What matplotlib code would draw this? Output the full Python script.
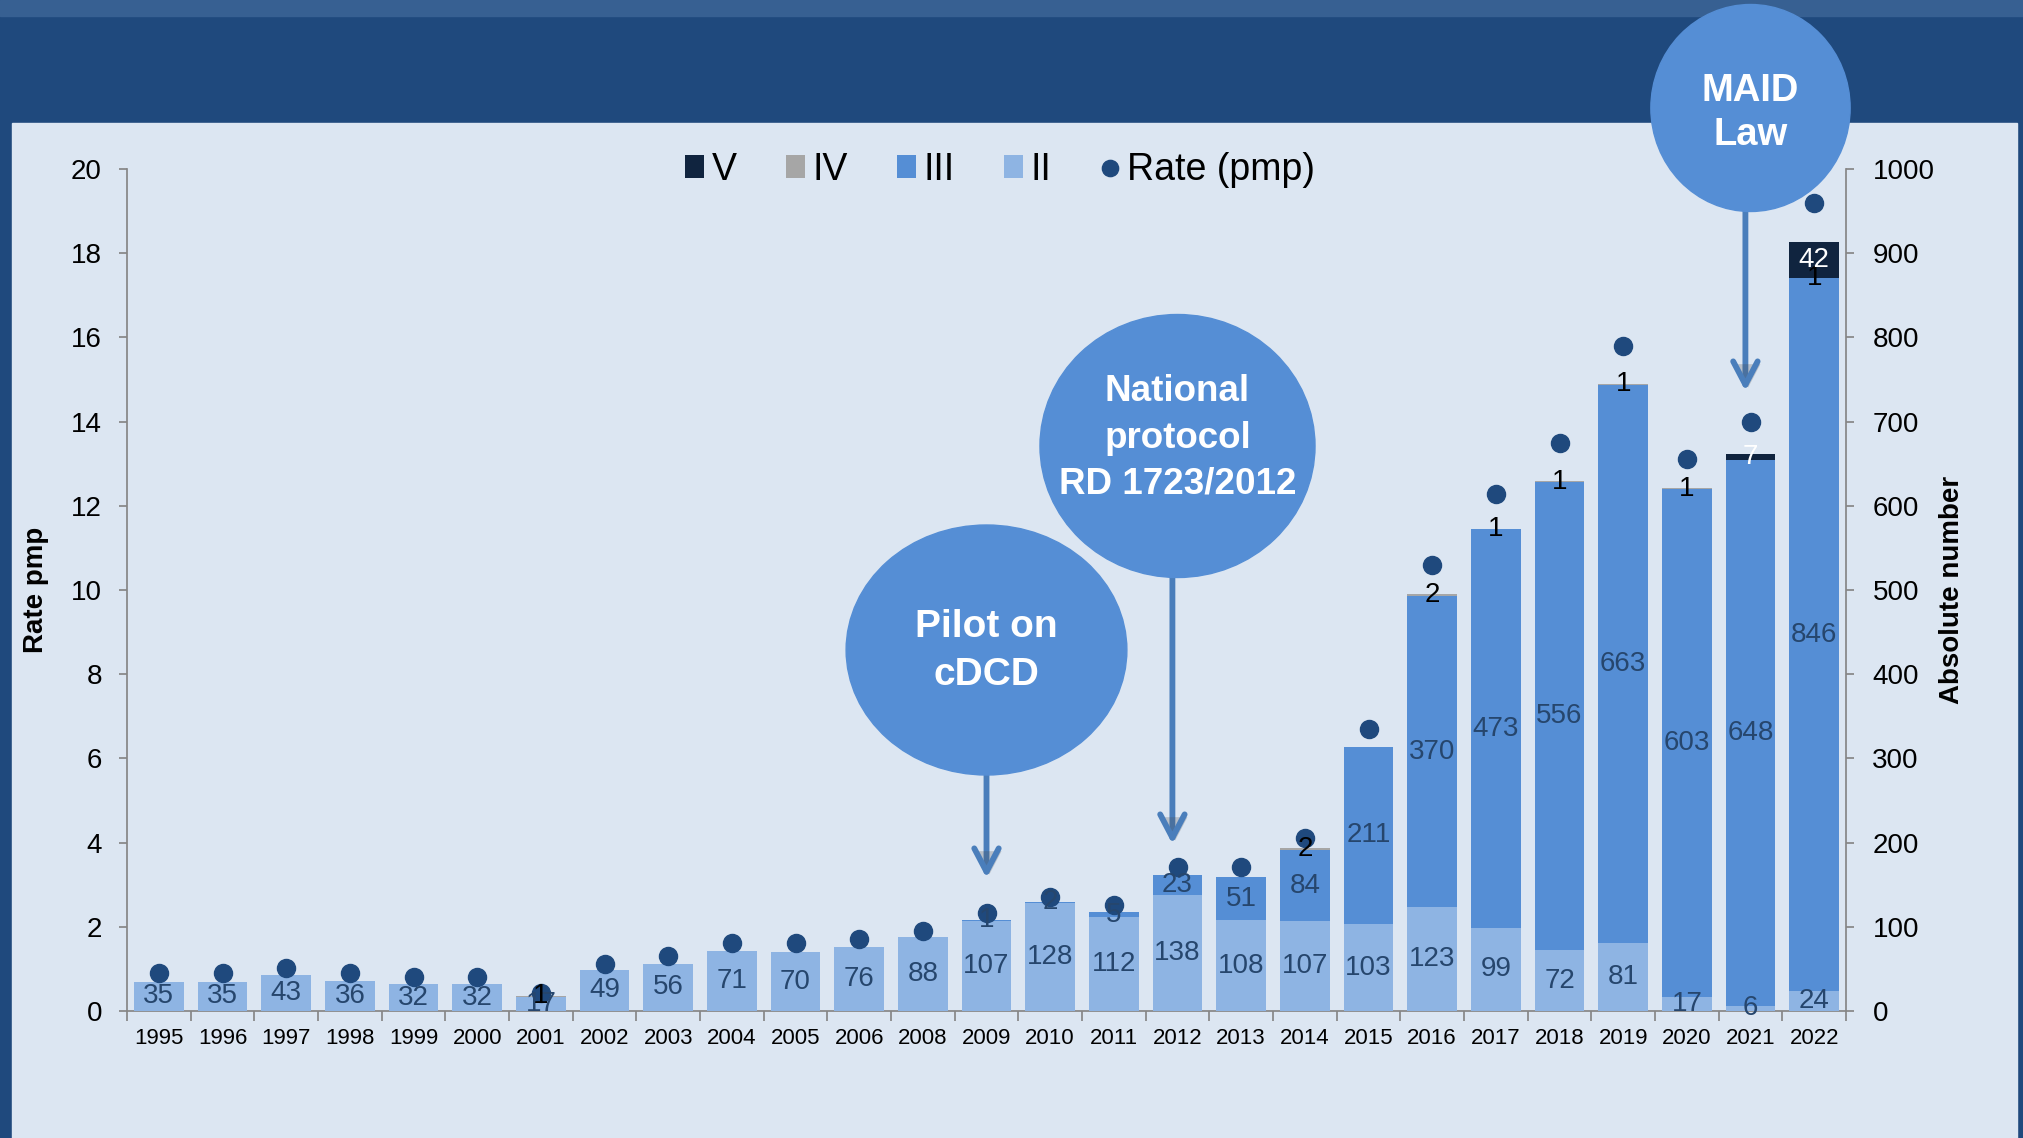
import numpy as np
import matplotlib
matplotlib.use("Agg")
import matplotlib.pyplot as plt
from matplotlib.patches import Rectangle, Ellipse, FancyArrowPatch
from matplotlib.transforms import blended_transform_factory
import matplotlib.patheffects as pe

plt.rcParams['font.family'] = ['Liberation Sans', 'DejaVu Sans']

# data
years = ['1995', '1996', '1997', '1998', '1999', '2000', '2001', '2002', '2003',
         '2004', '2005', '2006', '2008', '2009', '2010', '2011', '2012', '2013',
         '2014', '2015', '2016', '2017', '2018', '2019', '2020', '2021', '2022']
type_ii = [35, 35, 43, 36, 32, 32, 17, 49, 56, 71, 70, 76, 88, 107, 128, 112,
           138, 108, 107, 103, 123, 99, 72, 81, 17, 6, 24]
type_iii = [0, 0, 0, 0, 0, 0, 0, 0, 0, 0, 0, 0, 0, 1, 2, 5,
            23, 51, 84, 211, 370, 473, 556, 663, 603, 648, 846]
type_iv = [0, 0, 0, 0, 0, 0, 1, 0, 0, 0, 0, 0, 0, 0, 0, 0,
           0, 0, 2, 0, 2, 1, 1, 1, 1, 0, 1]
type_v = [0, 0, 0, 0, 0, 0, 0, 0, 0, 0, 0, 0, 0, 0, 0, 0,
          0, 0, 0, 0, 0, 0, 0, 0, 0, 7, 42]
rate_pmp = [0.91, 0.91, 1.01, 0.91, 0.81, 0.81, 0.43, 1.11, 1.30, 1.61, 1.61,
            1.72, 1.91, 2.32, 2.71, 2.51, 3.41, 3.41, 4.12, 6.70, 10.60, 12.29,
            13.49, 15.79, 13.10, 13.99, 19.20]

# milestones: text, year, ellipse centre y px, width (bar units), height px,
#             text centre y px, font size, line spacing, arrow x offset, arrow end y px
milestones = [
    ('Pilot on\ncDCD', '2009', 650, 4.41, 250, 651, 28, 1.4, 0.0, 878),
    ('National\nprotocol\nRD 1723/2012', '2012', 446, 4.32, 263, 438, 26.5, 1.42, -0.08, 844),
    ('MAID\nLaw', '2021', 108, 3.13, 207, 113, 27.5, 1.3, -0.08, 391),
]

c_ii, c_iii, c_iv, c_v = '#8EB4E3', '#558ED5', '#A6A6A6', '#10243F'
c_dot = '#1F497D'
c_lab = '#26466D'
c_axis = '#868686'

W, H = 2024, 1138
fig = plt.figure(figsize=(W / 100, H / 100), dpi=100, facecolor='#1F497D')

# slide background
fig.add_artist(Rectangle((12 / W, 0), (2017 - 12) / W, 1 - 123 / H,
                         transform=fig.transFigure, color='#DCE6F2', zorder=-10))
fig.add_artist(Rectangle((0, 1 - 16 / H), 1, 16 / H,
                         transform=fig.transFigure, color='#376092', zorder=-10))

ax = fig.add_axes([127 / W, 1 - 1011 / H, (1846 - 127) / W, (1011 - 169) / H])
ax.set_facecolor('none')
ax2 = ax.twinx()

x = np.arange(len(years))
ii = np.array(type_ii)
iii = np.array(type_iii)
iv = np.array(type_iv)
v = np.array(type_v)

bw = 0.78
b_ii = ax2.bar(x, ii, bw, color=c_ii, zorder=2)
b_iii = ax2.bar(x, iii, bw, bottom=ii, color=c_iii, zorder=2)
b_iv = ax2.bar(x, iv, bw, bottom=ii + iii, color=c_iv, zorder=2)
b_v = ax2.bar(x, v, bw, bottom=ii + iii + iv, color=c_v, zorder=2)

dots, = ax2.plot(x, rate_pmp, 'o', ms=13, color=c_dot, transform=ax.transData,
                 zorder=3, linestyle='none')


def labs(vals):
    return [str(k) if k else '' for k in vals]


ax2.bar_label(b_ii, labels=labs(type_ii), label_type='center', fontsize=20, color=c_lab, zorder=4)
ax2.bar_label(b_iii, labels=labs(type_iii), label_type='center', fontsize=20, color=c_lab, zorder=4)
ax2.bar_label(b_iv, labels=labs(type_iv), label_type='center', fontsize=20, color='black', zorder=4)
ax2.bar_label(b_v, labels=labs(type_v), label_type='center', fontsize=20, color='white', zorder=4)

ax.set_xlim(-0.5, len(years) - 0.5)
ax.set_ylim(0, 20)
ax2.set_ylim(0, 1000)
ax.set_yticks(np.arange(0, 21, 2))
ax2.set_yticks(np.arange(0, 1001, 100))
ax.set_xticks(x)
ax.set_xticklabels(years, fontsize=16)
ax.set_xticks(np.arange(-0.5, len(years), 1), minor=True)
ax.tick_params(axis='x', which='major', length=0, pad=12)
ax.tick_params(axis='x', which='minor', length=7, width=1.25, color=c_axis)
ax.tick_params(axis='y', labelsize=20, length=6, width=1.25, color=c_axis, pad=12)
ax2.tick_params(axis='y', labelsize=20, length=6, width=1.25, color=c_axis, pad=13)

for s in ['top', 'right']:
    ax.spines[s].set_visible(False)
for s in ['top', 'left', 'bottom']:
    ax2.spines[s].set_visible(False)
for a, s in [(ax, 'left'), (ax, 'bottom'), (ax2, 'right')]:
    a.spines[s].set_color(c_axis)
    a.spines[s].set_linewidth(1.25)

ax.set_ylabel('Rate pmp', fontsize=20, fontweight='bold', va='center')
ax.yaxis.set_label_coords(-0.053, 0.5)
ax2.set_ylabel('Absolute number', fontsize=20, fontweight='bold', va='center')
ax2.yaxis.set_label_coords(1.0617, 0.5)

ax2.legend([b_v, b_iv, b_iii, b_ii, dots], ['V', 'IV', 'III', 'II', 'Rate (pmp)'],
           loc='center', bbox_to_anchor=(1000 / W, 1 - 170 / H), bbox_transform=fig.transFigure,
           ncol=5, frameon=False, fontsize=27, handlelength=0.52, handleheight=0.55,
           handletextpad=0.2, columnspacing=1.3, markerscale=0.9)

# milestone bubbles with arrows
tr = blended_transform_factory(ax.transData, fig.transFigure)
for text, yr, cy, ew, eh, ty, fs, ls, dx, yend in milestones:
    xi = years.index(yr)
    bottom = cy + eh / 2
    arr = FancyArrowPatch((xi + dx, 1 - bottom / H), (xi + dx, 1 - yend / H), transform=tr,
                          arrowstyle='->,head_length=0.84,head_width=0.44', mutation_scale=20,
                          lw=4.2, color='#4A7EBB', shrinkA=0, shrinkB=0, zorder=6,
                          path_effects=[pe.SimplePatchShadow(offset=(2, -2), alpha=0.25), pe.Normal()])
    fig.add_artist(arr)
    fig.add_artist(Ellipse((xi, 1 - cy / H), ew, eh / H, transform=tr,
                           color=c_iii, zorder=7))
    fig.text(xi, 1 - ty / H, text, transform=tr, ha='center', va='center',
             color='white', fontsize=fs, fontweight='bold', linespacing=ls, zorder=8)

fig.savefig('out.png', dpi=100, facecolor=fig.get_facecolor())
